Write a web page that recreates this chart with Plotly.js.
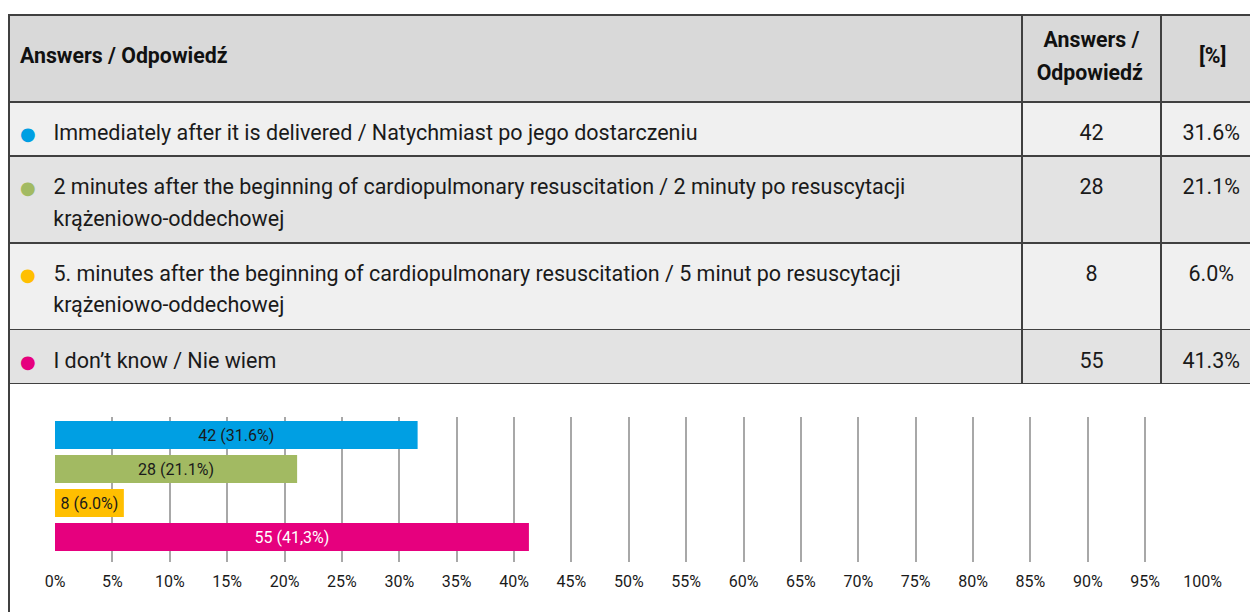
<!DOCTYPE html>
<html>
<head>
<meta charset="utf-8">
<script src="https://cdn.plot.ly/plotly-3.0.1.min.js"></script>
<style>
html,body{margin:0;padding:0;overflow:hidden;background:#fff;}
#chart{width:1254px;height:612px;}
</style>
</head>
<body>
<div id="chart"></div>
<script>
// ---- data ----
const headerLabels = ["Answers / Odpowiedź", "Answers /|Odpowiedź", "[%]"];
const answerLines = [
  ["Immediately after it is delivered / Natychmiast po jego dostarczeniu"],
  ["2 minutes after the beginning of cardiopulmonary resuscitation / 2 minuty po resuscytacji", "krążeniowo-oddechowej"],
  ["5. minutes after the beginning of cardiopulmonary resuscitation / 5 minut po resuscytacji", "krążeniowo-oddechowej"],
  ["I don’t know / Nie wiem"]
];
const categories = ["Immediately", "2 minutes", "5 minutes", "I don't know"];
const counts = [42, 28, 8, 55];
const percents = [31.6, 21.1, 6.0, 41.3];
const percentLabels = ["31.6%", "21.1%", "6.0%", "41.3%"];
const barLabels = ["42 (31.6%)", "28 (21.1%)", "8 (6.0%)", "55 (41,3%)"];
const seriesColors = ["#009fe3", "#a2ba62", "#ffbf00", "#e6007e"];
const barTextColors = ["#1a1a1a", "#1a1a1a", "#1a1a1a", "#ffffff"];
const rowFills = ["#f0f0f0", "#e3e3e3", "#f0f0f0", "#e3e3e3"];

// ---- helpers for table cell markup ----
const W = 1254, H = 612;
const NB = "\u00A0";
const nb = s => s.replace(/ /g, NB);
const span = (style, txt) => '<span style="' + style + '">' + txt + '</span>';
const clear = "color:transparent;font-size:";
const strut = (px, ch) => span(clear + px + "px", ch || ".");
const TXT = "font-size:21.5px";
const HTXT = "font-size:21.3px;font-weight:bold";
const DOT = c => span(clear + "12px", NB) +
  span("font-family:'DejaVu Sans';font-size:18px;color:" + c, "●");
// every cell holds an explicit line break so the table never re-wraps it
const endBreak = s => s.indexOf("<br>") >= 0 ? s : s + "<br>";

const col1 = answerLines.map((lines, i) => {
  const first = DOT(seriesColors[i]) + strut(32, "n") + span(TXT, nb(lines[0]));
  if (lines.length === 1) return endBreak(first);
  const second = DOT("transparent") + span(clear + "23.6px", NB + NB + NB) + span(TXT, nb(lines[1]));
  return first + "<br>" + second;
});
// two-line rows get their extra depth from an invisible glyph in the count column
const col2 = counts.map((v, i) => {
  const first = strut(32) + span(TXT, String(v)) + strut(32);
  if (answerLines[i].length === 1) return endBreak(first);
  return first + "<br>" + span(clear + "17px", NB + NB) + strut(30);
});
const col3 = percentLabels.map(v => endBreak(strut(32) + span(TXT, v)));

const hdr = [
  endBreak(span(clear + "12px", NB) + span(HTXT, nb(headerLabels[0])) + strut(43.6)),
  headerLabels[1].split("|").map((t, k) => k === 0 ? strut(26) + span(HTXT, nb(t)) + strut(26) : span(HTXT, nb(t))).join("<br>"),
  endBreak(strut(43.6) + span(HTXT, headerLabels[2]))
];

const table = {
  type: "table",
  domain: {x: [9 / W, 1253 / W], y: [1 - 400 / H, 1 - 15 / H]},
  columnwidth: [1013, 139, 92],
  header: {
    values: hdr,
    align: ["left", "center", "center"],
    height: 87,
    fill: {color: "#d9d9d9"},
    line: {color: "#404040", width: 1.5},
    font: {family: "Roboto", size: 25, color: "#111111"}
  },
  cells: {
    values: [col1, col2, col3],
    align: ["left", "center", "center"],
    height: 54,
    fill: {color: [rowFills, rowFills, rowFills]},
    line: {color: "#404040", width: 1.5},
    font: {family: "Roboto", size: [24.3, 26, 24.3], color: "#1a1a1a"}
  },
  hoverinfo: "none"
};

const bars = {
  type: "bar",
  orientation: "h",
  x: percents,
  y: categories,
  marker: {color: seriesColors},
  text: barLabels,
  textposition: "inside",
  insidetextanchor: "middle",
  textangle: 0,
  textfont: {family: "Roboto", size: 16, color: barTextColors},
  hoverinfo: "none",
  showlegend: false
};

const layout = {
  width: W, height: H,
  margin: {l: 0, r: 0, t: 0, b: 0},
  paper_bgcolor: "#ffffff",
  plot_bgcolor: "rgba(0,0,0,0)",
  showlegend: false,
  font: {family: "Roboto", color: "#1a1a1a"},
  bargap: 6 / 34,
  xaxis: {
    domain: [55 / W, 1202.5 / W],
    range: [0, 100],
    dtick: 5,
    ticksuffix: "%",
    showgrid: true,
    gridcolor: "#a8a8a8",
    gridwidth: 2,
    zeroline: false,
    showline: false,
    ticks: "",
    ticklabelstandoff: 8,
    tickfont: {family: "Roboto", size: 16, color: "#1a1a1a"},
    fixedrange: true
  },
  yaxis: {
    domain: [1 - 562 / H, 1 - 417 / H],
    type: "category",
    categoryorder: "array",
    categoryarray: categories,
    range: [3 + 25 / 34, -18 / 34],
    showticklabels: false,
    showgrid: false,
    zeroline: false,
    showline: false,
    ticks: "",
    fixedrange: true
  },
  shapes: [{
    type: "rect", xref: "paper", yref: "paper",
    x0: 9 / W, x1: 1253 / W, y0: -0.02, y1: 1 - 383 / H,
    line: {color: "#404040", width: 2}, fillcolor: "rgba(0,0,0,0)", layer: "below"
  }]
};

Plotly.newPlot("chart", [bars, table], layout, {displayModeBar: false, staticPlot: true});
</script>
</body>
</html>
